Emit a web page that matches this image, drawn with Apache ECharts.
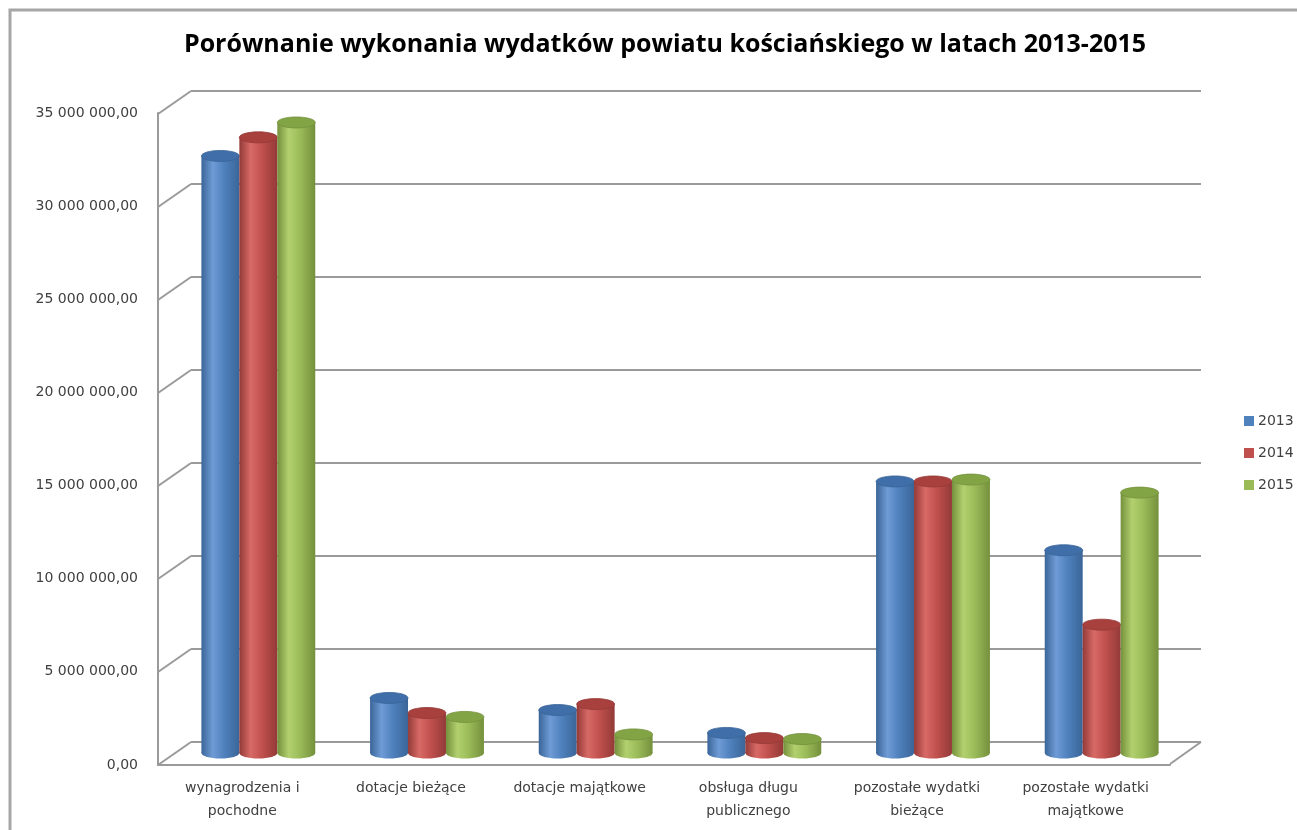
<!DOCTYPE html>
<html>
  <head>
    <meta charset="utf-8" />
    <title>Porównanie wykonania wydatków powiatu kościańskiego</title>
    <script src="https://cdn.jsdelivr.net/npm/echarts@6/dist/echarts.min.js"></script>
    <style>
      html,
      body {
        margin: 0;
        padding: 0;
        background: #fff;
      }
      #chart {
        width: 1297px;
        height: 830px;
      }
    </style>
  </head>
  <body>
    <div id="chart"></div>
    <script>
      var categories = [
        "wynagrodzenia i\npochodne",
        "dotacje bieżące",
        "dotacje majątkowe",
        "obsługa długu\npublicznego",
        "pozostałe wydatki\nbieżące",
        "pozostałe wydatki\nmajątkowe"
      ];
      var years = ["2013", "2014", "2015"];
      var v2013 = [32100000, 2960000, 2310000, 1080000, 14600000, 10900000];
      var v2014 = [33100000, 2150000, 2630000, 800000, 14600000, 6900000];
      var v2015 = [33900000, 1940000, 1000000, 750000, 14700000, 14000000];
      var ticks = [0, 5000000, 10000000, 15000000, 20000000, 25000000, 30000000, 35000000];

      // base, light, dark, cap
      var palette = [
        ["#4f81bd", "#6f9bd6", "#3a6598", "#3f6ea8"],
        ["#c0504d", "#d86a66", "#933a38", "#a8413e"],
        ["#9bbb59", "#b2d06e", "#74903c", "#82a445"]
      ];

      var chart = echarts.init(document.getElementById("chart"));

      function money(v) {
        return String(v).replace(/\B(?=(\d{3})+(?!\d))/g, " ") + ",00";
      }

      function cylinder(k) {
        var c = palette[k];
        return function (params, api) {
          var ci = api.value(0);
          var v = api.value(1);
          var band = api.size([1, 0])[0];
          var bw = band * 0.225;
          var top = api.coord([ci, v]);
          var base = api.coord([ci, 0]);
          var x0 = top[0] - 1.5 * bw + k * bw;
          var cx = x0 + bw / 2;
          var ry = 5.5;
          var grad = new echarts.graphic.LinearGradient(0, 0, 1, 0, [
            { offset: 0, color: c[2] },
            { offset: 0.3, color: c[1] },
            { offset: 0.6, color: c[0] },
            { offset: 1, color: c[2] }
          ]);
          return {
            type: "group",
            children: [
              { type: "ellipse", shape: { cx: cx, cy: base[1], rx: bw / 2, ry: ry }, style: { fill: grad } },
              { type: "rect", shape: { x: x0, y: top[1], width: bw, height: base[1] - top[1] }, style: { fill: grad } },
              { type: "ellipse", shape: { cx: cx, cy: top[1], rx: bw / 2, ry: ry }, style: { fill: c[3], stroke: c[2], lineWidth: 0.8 } }
            ]
          };
        };
      }

      function slants(params, api) {
        var v = api.value(1);
        var p = api.coord([0, v]);
        var kids = [
          { type: "line", shape: { x1: p[0], y1: p[1], x2: p[0] - 33, y2: p[1] + 23 }, style: { stroke: "#9a9a9a", lineWidth: 2 } }
        ];
        if (v === 0) {
          var q = api.coord([1, 0]);
          kids.push({ type: "line", shape: { x1: q[0], y1: q[1], x2: q[0] - 31, y2: q[1] + 22 }, style: { stroke: "#9a9a9a", lineWidth: 2 } });
        }
        return { type: "group", children: kids };
      }

      var lists = [v2013, v2014, v2015];
      var barSeries = years.map(function (y, k) {
        return {
          name: y,
          type: "custom",
          xAxisIndex: 1,
          yAxisIndex: 1,
          renderItem: cylinder(k),
          itemStyle: { color: palette[k][0] },
          encode: { x: 0, y: 1 },
          data: lists[k].map(function (v, i) { return [i, v]; }),
          z: 5
        };
      });

      var option = {
        backgroundColor: "#ffffff",
        animation: false,
        title: {
          text: "Porównanie wykonania wydatków powiatu kościańskiego w latach 2013-2015",
          left: 660,
          textAlign: "center",
          top: 27,
          textStyle: { fontFamily: "Open Sans", fontWeight: "bold", fontSize: 25, color: "#000" }
        },
        legend: {
          data: years,
          orient: "vertical",
          left: 1239,
          top: 409,
          itemWidth: 10,
          itemHeight: 10,
          itemGap: 18,
          icon: "rect",
          textStyle: { fontFamily: "DejaVu Sans", fontSize: 14, color: "#404040", padding: [0, 0, 0, -1] }
        },
        graphic: [
          { type: "rect", shape: { x: 10, y: 10, width: 1300, height: 840 }, style: { fill: null, stroke: "#a6a6a6", lineWidth: 3 }, silent: true }
        ],
        grid: [
          { left: 191, top: 91, width: 1010, height: 651 },
          { left: 174, top: 102, width: 1012, height: 651 },
          { left: 158, top: 113, width: 1012, height: 652 }
        ],
        xAxis: [
          { gridIndex: 0, type: "value", min: 0, max: 1, show: false },
          { gridIndex: 1, type: "category", data: categories, show: false },
          {
            gridIndex: 2,
            type: "category",
            data: categories,
            axisLine: { lineStyle: { color: "#9a9a9a", width: 2 } },
            axisTick: { show: false },
            axisLabel: { interval: 0, fontFamily: "DejaVu Sans", fontSize: 14, color: "#404040", lineHeight: 23, margin: 12 }
          }
        ],
        yAxis: [
          {
            gridIndex: 0,
            type: "value",
            min: 0,
            max: 35000000,
            interval: 5000000,
            axisLine: { show: false },
            axisTick: { show: false },
            axisLabel: { show: false },
            splitLine: { lineStyle: { color: "#9a9a9a", width: 2 } }
          },
          { gridIndex: 1, type: "value", min: 0, max: 35000000, interval: 5000000, show: false, splitLine: { show: false } },
          {
            gridIndex: 2,
            type: "value",
            min: 0,
            max: 35000000,
            interval: 5000000,
            axisLine: { show: true, lineStyle: { color: "#9a9a9a", width: 2 } },
            axisTick: { show: false },
            splitLine: { show: false },
            axisLabel: { fontFamily: "DejaVu Sans", fontSize: 14, color: "#404040", margin: 20, formatter: money }
          }
        ],
        series: [
          {
            type: "custom",
            xAxisIndex: 0,
            yAxisIndex: 0,
            renderItem: slants,
            encode: { x: 0, y: 1 },
            data: ticks.map(function (t) { return [0, t]; }),
            silent: true,
            z: 1
          }
        ].concat(barSeries)
      };

      chart.setOption(option);
    </script>
  </body>
</html>
